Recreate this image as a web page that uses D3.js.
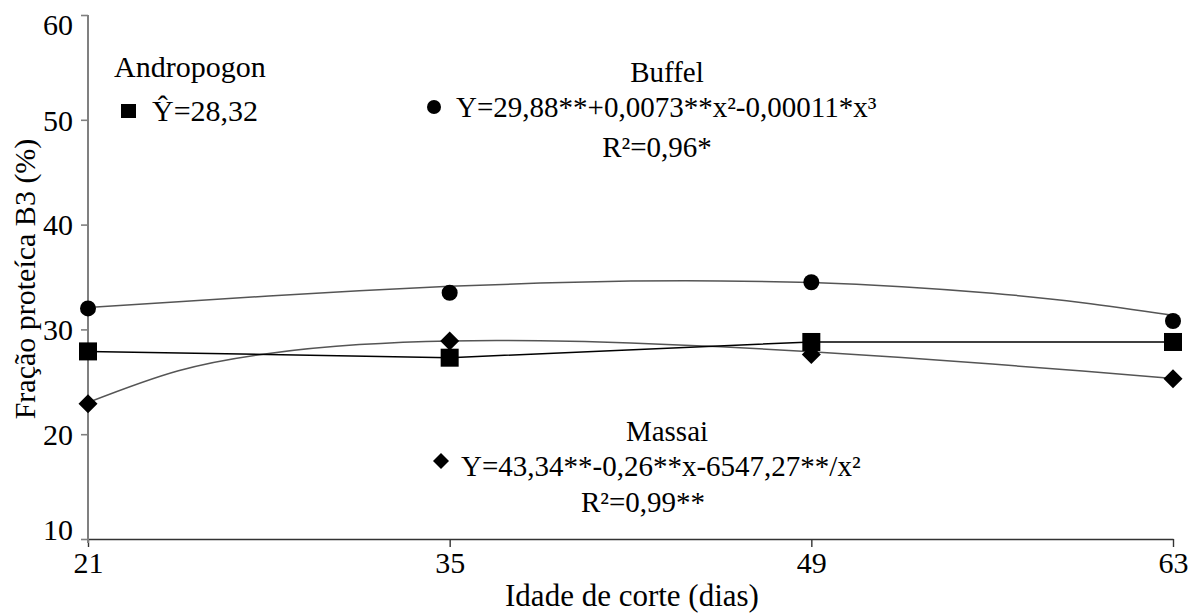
<!DOCTYPE html>
<html>
<head>
<meta charset="utf-8">
<script src="https://cdn.jsdelivr.net/npm/d3@7"></script>
<style>
  html, body { margin: 0; padding: 0; background: #fff; }
  svg { display: block; }
  svg text { font-family: "Liberation Serif", "Tinos", "Times New Roman", Times, "DejaVu Serif", serif !important; fill: #000; }
</style>
</head>
<body>
<svg id="chart" width="1198" height="615"></svg>
<script>
// ---- data ----
const days = [21, 35, 49, 63];
const xTickLabels = ["21", "35", "49", "63"];
const yTickValues = [10, 20, 30, 40, 50, 60];
const andropogon = [27.9, 27.3, 28.8, 28.8];
const buffel = [32.0, 33.5, 34.5, 30.8];
const massai = [22.9, 28.9, 27.6, 25.3];
// fitted curves
const fitDays = [21, 24.5, 28, 31.5, 35, 38.5, 42, 45.5, 49, 52.5, 56, 59.5, 63];
const buffelFit = [32.08, 32.64, 33.19, 33.69, 34.11, 34.42, 34.61, 34.63, 34.47, 34.08, 33.45, 32.55, 31.35];
const massaiFit = [23.03, 26.06, 27.71, 28.55, 28.90, 28.91, 28.71, 28.35, 27.87, 27.31, 26.69, 26.02, 25.31];

const svg = d3.select("#chart");
const FS = 29;
const FONT = '"Liberation Serif", "Tinos", "Times New Roman", Times, "DejaVu Serif", serif';

const x = d3.scaleLinear().domain([21, 63]).range([88, 1173]);
const y = d3.scaleLinear().domain([10, 60]).range([539, 15]);

// ---- axes ----
const xAxis = svg.append("g").attr("transform", "translate(0,539)")
  .call(d3.axisBottom(x).tickValues(days).tickFormat((d, i) => xTickLabels[i]).tickSize(8).tickSizeOuter(0));
xAxis.attr("font-family", FONT);
xAxis.select(".domain").attr("stroke", "#333").attr("stroke-width", 1.6);
xAxis.selectAll(".tick line").attr("stroke", "#333").attr("stroke-width", 1.4);
xAxis.selectAll(".tick text").attr("font-size", 30).attr("fill", "#000").attr("dy", "0.95em").attr("y", 5);

const yAxis = svg.append("g").attr("transform", "translate(88,0)")
  .call(d3.axisLeft(y).tickValues(yTickValues).tickSize(7).tickSizeOuter(0));
yAxis.attr("font-family", FONT);
yAxis.select(".domain").attr("stroke", "#808080").attr("stroke-width", 2)
  .attr("d", `M0,${y(60)}V${y(10) + 4}`);
yAxis.selectAll(".tick line").attr("stroke", "#808080").attr("stroke-width", 1.6);
yAxis.selectAll(".tick text").attr("font-size", 30).attr("fill", "#000")
  .attr("x", -15)
  .attr("dy", d => d === 60 ? "0.64em" : (d === 10 ? "0em" : "0.34em"));

// axis titles
svg.append("text").attr("x", 632).attr("y", 606).attr("text-anchor", "middle")
  .attr("font-size", 31).text("Idade de corte (dias)");
svg.append("text").attr("transform", "translate(35,279) rotate(-90)").attr("text-anchor", "middle")
  .attr("font-size", 30).text("Fração proteíca B3 (%)");

// ---- lines ----
const fitLine = d3.line().x((d, i) => x(fitDays[i])).y(d => y(d)).curve(d3.curveNatural);
const dataLine = d3.line().x((d, i) => x(days[i])).y(d => y(d));

svg.append("path").attr("d", fitLine(buffelFit)).attr("fill", "none").attr("stroke", "#555").attr("stroke-width", 1.5);
svg.append("path").attr("d", fitLine(massaiFit)).attr("fill", "none").attr("stroke", "#555").attr("stroke-width", 1.5);
svg.append("path").attr("d", dataLine(andropogon)).attr("fill", "none").attr("stroke", "#000").attr("stroke-width", 1.5);

// ---- markers ----
const g = svg.append("g");
g.selectAll("circle.buf").data(buffel).join("circle")
  .attr("cx", (d, i) => x(days[i])).attr("cy", d => y(d)).attr("r", 8).attr("fill", "#000");
g.selectAll("rect.and").data(andropogon).join("rect")
  .attr("x", (d, i) => x(days[i]) - 9).attr("y", d => y(d) - 9).attr("width", 18).attr("height", 18).attr("fill", "#000");
const diamond = s => `M0,${-s}L${s},0L0,${s}L${-s},0Z`;
g.selectAll("path.mas").data(massai).join("path")
  .attr("transform", (d, i) => `translate(${x(days[i])},${y(d)})`).attr("d", diamond(9.5)).attr("fill", "#000");

// ---- annotations ----
svg.append("text").attr("x", 114).attr("y", 77).attr("font-size", 30).text("Andropogon");
svg.append("rect").attr("x", 121).attr("y", 104).attr("width", 15).attr("height", 14).attr("fill", "#000");
svg.append("text").attr("x", 152).attr("y", 121).attr("font-size", 30).text("Ŷ=28,32");

svg.append("text").attr("x", 667).attr("y", 82).attr("text-anchor", "middle").attr("font-size", FS).text("Buffel");
svg.append("circle").attr("cx", 434).attr("cy", 107).attr("r", 7).attr("fill", "#000");
svg.append("text").attr("x", 456).attr("y", 117).attr("font-size", FS).text("Y=29,88**+0,0073**x²-0,00011*x³");
svg.append("text").attr("x", 657).attr("y", 157).attr("text-anchor", "middle").attr("font-size", FS).text("R²=0,96*");

svg.append("text").attr("x", 667).attr("y", 441).attr("text-anchor", "middle").attr("font-size", FS).text("Massai");
svg.append("path").attr("transform", "translate(441,461)").attr("d", diamond(8)).attr("fill", "#000");
svg.append("text").attr("x", 461).attr("y", 476).attr("font-size", FS).text("Y=43,34**-0,26**x-6547,27**/x²");
svg.append("text").attr("x", 643).attr("y", 512).attr("text-anchor", "middle").attr("font-size", FS).text("R²=0,99**");
</script>
</body>
</html>
